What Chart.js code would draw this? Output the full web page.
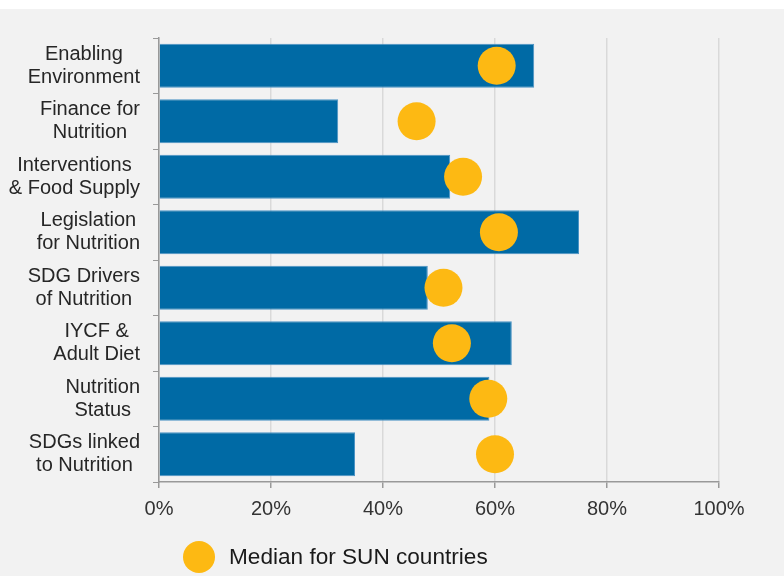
<!DOCTYPE html>
<html lang="en">
<head>
  <meta charset="UTF-8" />
  <title>Nutrition scores vs SUN median</title>
  <style>
    body { margin: 0; background: #fff; font-family: "Liberation Sans", Arial, sans-serif; }
    .wrap { position: absolute; left: 0; top: 9px; width: 784px; height: 567px; background: #f2f2f2; }
    .legend { position: absolute; left: 183px; top: 532px; display: flex; align-items: center; }
    .legend .dot { width: 32px; height: 32px; border-radius: 50%; background: #fdb913; margin-right: 14px; }
    .legend span { font-size: 22.6px; color: #1a1a1a; }
  </style>
</head>
<body>
  <div class="wrap">
    <canvas id="scoreChart" width="784" height="567"></canvas>
    <div class="legend"><div class="dot"></div><span>Median for SUN countries</span></div>
  </div>

  <script src="https://cdn.jsdelivr.net/npm/chart.js"></script>
  <script>
    // categories (each one split over two lines)
    const categories = [
      ['Enabling', 'Environment'],
      ['Finance for', 'Nutrition'],
      ['Interventions', '& Food Supply'],
      ['Legislation', 'for Nutrition'],
      ['SDG Drivers', 'of Nutrition'],
      ['IYCF &', 'Adult Diet'],
      ['Nutrition', 'Status'],
      ['SDGs linked', 'to Nutrition']
    ];
    const countryScores = [67, 32, 52, 75, 48, 63, 59, 35];
    const sunMedians = [60.3, 46, 54.3, 60.7, 50.8, 52.3, 58.8, 60];
    const xTicks = [0, 20, 40, 60, 80, 100];

    const labelKeys = categories.map(c => c.join(' '));

    // draws the two-line category labels, lines centred in their block, block right-aligned
    const categoryLabels = {
      id: 'categoryLabels',
      afterDraw(chart) {
        const ctx = chart.ctx;
        const yScale = chart.scales.y;
        const right = yScale.right - 19;
        ctx.save();
        ctx.font = '20px "Liberation Sans", Arial, sans-serif';
        ctx.fillStyle = '#262626';
        ctx.textAlign = 'center';
        ctx.textBaseline = 'middle';
        categories.forEach((lines, i) => {
          const yMid = yScale.getPixelForValue(i);
          const blockW = Math.max(...lines.map(l => ctx.measureText(l).width));
          const cx = right - blockW / 2;
          lines.forEach((l, j) => {
            ctx.fillText(l, cx, yMid + (j - (lines.length - 1) / 2) * 23);
          });
        });
        ctx.restore();
      }
    };

    const ctx = document.getElementById('scoreChart').getContext('2d');
    new Chart(ctx, {
      type: 'bar',
      data: {
        labels: labelKeys,
        datasets: [
          {
            type: 'line',
            label: 'Median for SUN countries',
            data: sunMedians.map((v, i) => ({ x: v, y: labelKeys[i] })),
            showLine: false,
            pointRadius: 19,
            pointHoverRadius: 19,
            pointBackgroundColor: '#fdb913',
            pointBorderWidth: 0,
            order: 0
          },
          {
            label: 'Country',
            data: countryScores,
            backgroundColor: '#006aa5',
            borderColor: '#4b93c4',
            borderWidth: 1,
            barPercentage: 0.79,
            categoryPercentage: 1,
            order: 1
          }
        ]
      },
      options: {
        indexAxis: 'y',
        responsive: false,
        animation: false,
        layout: { padding: { top: 29, right: 65, left: 0, bottom: 0 } },
        plugins: {
          legend: { display: false },
          tooltip: { enabled: false }
        },
        scales: {
          x: {
            min: 0,
            max: 100,
            afterBuildTicks: scale => { scale.ticks = xTicks.map(v => ({ value: v })); },
            afterFit: scale => { scale.height = 94; },
            grid: { color: '#d9d9d9', lineWidth: 1.5, tickColor: '#999', tickLength: 6 },
            border: { color: '#999', width: 1.5 },
            ticks: {
              callback: v => v + '%',
              color: '#333',
              padding: 9,
              font: { family: '"Liberation Sans", Arial, sans-serif', size: 20 }
            }
          },
          y: {
            afterFit: scale => { scale.width = 159; },
            grid: { drawOnChartArea: false, tickColor: '#999', tickLength: 6 },
            border: { color: '#999', width: 1.5 },
            ticks: { display: false }
          }
        }
      },
      plugins: [categoryLabels]
    });
  </script>
</body>
</html>
